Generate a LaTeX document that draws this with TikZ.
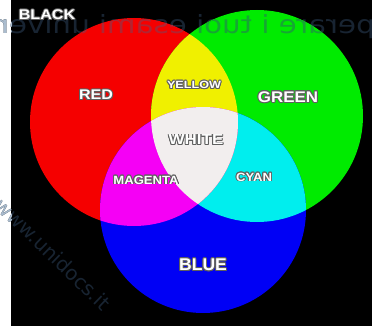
\documentclass[tikz,border=0pt]{standalone}
\usepackage{fontspec}
\setmainfont{DejaVu Sans}
\newfontfamily\lblfont{Liberation Sans}
\usepackage{graphicx}
\definecolor{cred}{RGB}{245,0,0}
\definecolor{cgreen}{RGB}{0,235,0}
\definecolor{cblue}{RGB}{0,0,245}
\definecolor{cyellow}{RGB}{240,240,0}
\definecolor{ccyan}{RGB}{0,238,238}
\definecolor{cmagenta}{RGB}{245,0,245}
\definecolor{cwhite}{RGB}{242,238,238}
\definecolor{outl}{RGB}{95,95,95}
\definecolor{wmblack}{RGB}{24,36,50}
\definecolor{wmwhite}{RGB}{170,188,206}
\definecolor{wmred}{RGB}{178,36,50}
\definecolor{wmgreen}{RGB}{22,166,52}
\definecolor{wmyellow}{RGB}{176,176,52}
\tikzset{
  lbl/.style={inner sep=0pt, font=\lblfont\bfseries},
  wmtext/.style={inner sep=0pt},
}
\newcommand\glowlabel[5]{%
  \foreach \ang in {0,30,...,330}{
    \node[lbl, text=outl] at ([shift={(\ang:0.9)}]#2) {\scalebox{#4}[1]{\fontsize{#3}{#3}\selectfont #5}};}
  \node[lbl, text=white] (#1) at (#2) {\scalebox{#4}[1]{\fontsize{#3}{#3}\selectfont #5}};
}
\newcommand\wmtop[2]{\node[wmtext, text=#1, anchor=base] (#2) at (186,34) {\fontsize{25}{25}\selectfont\reflectbox{\scalebox{1.17}[1]{perare i tuoi esami univer}}};}
\newcommand\wmdiag[2]{\node[wmtext, text=#1, rotate=-44] (#2) at (53,254) {\fontsize{20}{20}\selectfont www.unidocs.it};}
\begin{document}
\begin{tikzpicture}[x=1pt,y=-1pt]
\useasboundingbox (0,0) rectangle (372,326);
\fill[white] (0,0) rectangle (372,326);
\fill[black] (11,0) rectangle (372,326);
\coordinate (R) at (134,122);
\coordinate (G) at (257,116);
\coordinate (B) at (203,210);
\def\rr{104pt}
\def\rg{106pt}
\def\rb{103pt}
% watermark on black
\wmtop{wmblack}{wm1}
\wmdiag{wmblack}{wm2}
% circles
\fill[cred] (R) circle[radius=\rr];
\fill[cgreen] (G) circle[radius=\rg];
\fill[cblue] (B) circle[radius=\rb];
\begin{scope}
  \clip (G) circle[radius=\rg];
  \fill[ccyan] (B) circle[radius=\rb];
\end{scope}
\begin{scope}
  \clip (R) circle[radius=\rr];
  \fill[cyellow] (G) circle[radius=\rg];
  \fill[cmagenta] (B) circle[radius=\rb];
  \clip (G) circle[radius=\rg];
  \fill[cwhite] (B) circle[radius=\rb];
\end{scope}
% watermark tinted over the coloured areas
\begin{scope}
  \clip (R) circle[radius=\rr];
  \wmtop{wmred}{wm1r}
\end{scope}
\begin{scope}
  \clip (G) circle[radius=\rg];
  \wmtop{wmgreen}{wm1g}
\end{scope}
\begin{scope}
  \clip (R) circle[radius=\rr];
  \clip (G) circle[radius=\rg];
  \wmtop{wmyellow}{wm1y}
\end{scope}
\begin{scope}
  \clip (0,0) rectangle (11,326);
  \wmtop{wmwhite}{wm1w}
  \wmdiag{wmwhite}{wm2w}
\end{scope}
% labels
\glowlabel{black}{47,15}{14}{1.15}{BLACK}
\glowlabel{red}{96,95}{14}{1.15}{RED}
\glowlabel{green}{288,97}{15.4}{1.1}{GREEN}
\glowlabel{yellow}{194,85}{10.5}{1.2}{YELLOW}
\glowlabel{white}{196,140}{14.5}{1.17}{WHITE}
\glowlabel{magenta}{146,180}{11.9}{1.1}{MAGENTA}
\glowlabel{cyan}{254,177}{11.9}{1.1}{CYAN}
\glowlabel{blue}{203,265}{17}{1.03}{BLUE}
\end{tikzpicture}
\end{document}
